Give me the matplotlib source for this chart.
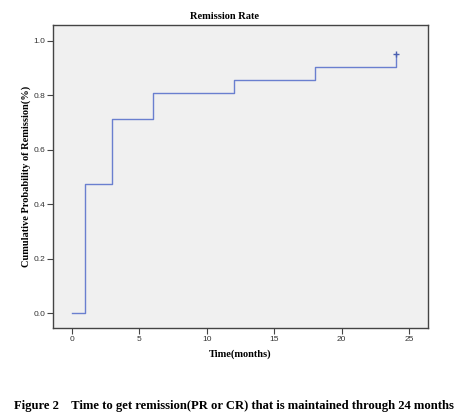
import matplotlib
matplotlib.use('Agg')
import matplotlib.pyplot as plt

# Kaplan-Meier style cumulative remission (events out of 21 patients)
times = [0, 1, 3, 6, 12, 18, 24]
cum_prob = [0.0, 10/21, 15/21, 17/21, 18/21, 19/21, 20/21]
censor_time = [24]
censor_prob = [20/21]

x_ticks = [0, 5, 10, 15, 20, 25]
y_ticks = [0.0, 0.2, 0.4, 0.6, 0.8, 1.0]

serif = ['Liberation Serif', 'DejaVu Serif']
sans = ['Liberation Sans', 'DejaVu Sans']
line_col = '#6a7fcf'

fig = plt.figure(figsize=(4.74, 4.17), dpi=100)
ax = fig.add_axes([0.1118, 0.2134, 0.791, 0.7266])
ax.set_facecolor('#f0f0f0')

ax.step(times, cum_prob, where='post', color=line_col, lw=1.0)
ax.plot(censor_time, censor_prob, marker='+', ms=5, mew=1.0,
        color='#4a5fb0', ls='none')

ax.set_xlim(-1.4, 26.4)
ax.set_ylim(-0.054, 1.058)
ax.set_xticks(x_ticks)
ax.set_yticks(y_ticks)
ax.set_xticklabels([str(t) for t in x_ticks], family=sans, fontsize=6, color='#333333')
ax.set_yticklabels([f'{t:.1f}' for t in y_ticks], family=sans, fontsize=6, color='#333333')
ax.tick_params(direction='out', length=4, width=0.8, color='#444444', pad=1.5)

for s in ax.spines.values():
    s.set_color('#444444')
    s.set_linewidth(1.0)

# title sits a bit left of the axes centre in the original
fig.text(225 / 474, 1 - 19 / 417, 'Remission Rate', family=serif, fontsize=7.5,
         fontweight='bold', ha='center', va='baseline')
ax.set_xlabel('Time(months)', family=serif, fontsize=7.5, fontweight='bold', labelpad=5)
ax.set_ylabel('Cumulative Probability of Remission(%)', family=serif, fontsize=7.5,
              fontweight='bold', labelpad=2)

fig.text(0.494, 0.019, 'Figure 2    Time to get remission(PR or CR) that is maintained through 24 months',
         family=serif, fontsize=9.1, fontweight='bold', ha='center', va='baseline')

fig.savefig('out.png', dpi=100)
